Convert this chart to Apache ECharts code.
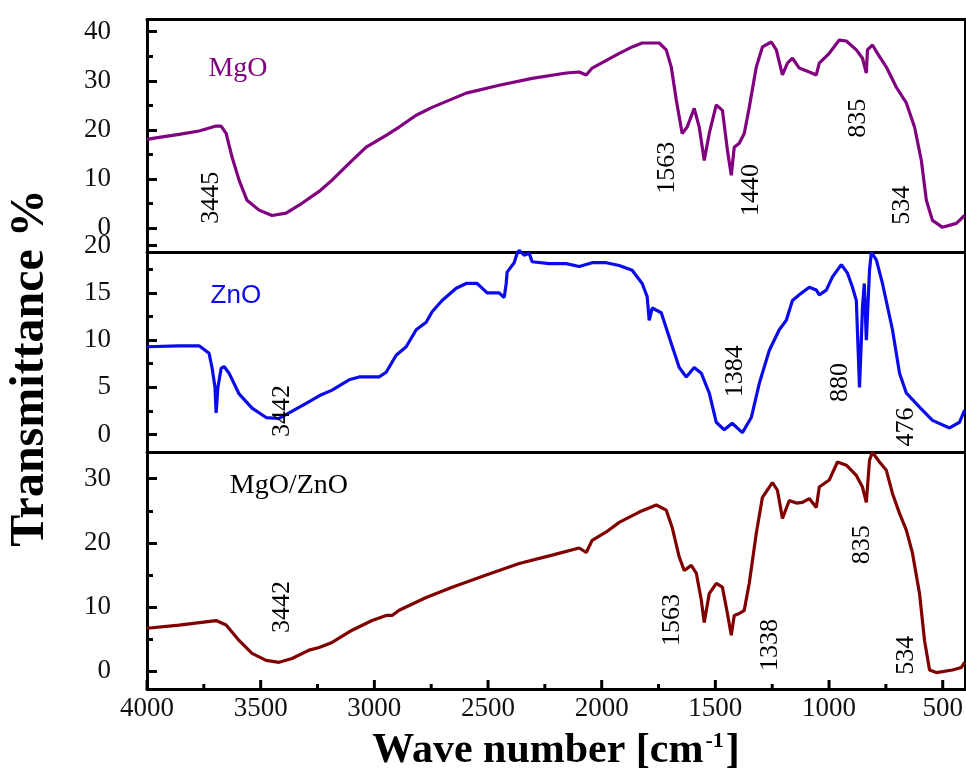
<!DOCTYPE html>
<html>
<head>
<meta charset="utf-8">
<script src="https://cdn.jsdelivr.net/npm/echarts@6/dist/echarts.min.js"></script>
<style>html,body{margin:0;padding:0;background:#fff;}#c{width:966px;height:768px;}</style>
</head>
<body>
<div id="c"></div>
<script>
// ---- data ----
const mgoWave = [4000,3947,3859,3771,3696,3674,3652,3626,3595,3560,3507,3450,3388,3331,3243,3186,3111,3036,2948,2891,2816,2746,2596,2451,2306,2156,2099,2068,2042,1923,1866,1822,1747,1716,1694,1672,1646,1624,1593,1571,1549,1527,1496,1469,1447,1430,1417,1395,1373,1351,1320,1293,1254,1232,1205,1183,1161,1131,1087,1056,1043,999,955,924,880,853,836,831,809,787,748,704,660,624,594,572,545,501,440,404];
const mgoT = [18.1,18.5,19.1,19.8,20.8,20.8,19.3,14.5,9.8,5.7,3.7,2.6,3.1,4.7,7.5,9.8,13.2,16.5,18.9,20.6,23.0,24.6,27.5,29.1,30.5,31.6,31.8,31.2,32.6,35.6,36.9,37.7,37.7,36.3,32.8,26.1,19.3,20.6,24.4,20.6,13.8,19.3,25.1,24.0,15.9,10.8,16.5,17.3,19.3,24.6,32.8,36.9,37.9,36.3,31.2,33.6,34.6,32.6,31.8,31.2,33.6,35.6,38.3,38.1,36.3,34.6,31.6,36.3,37.3,35.6,32.8,28.7,25.5,20.6,13.8,5.7,1.6,0.2,1.0,2.6];

const znoWave = [4000,3859,3771,3727,3714,3701,3696,3688,3674,3661,3639,3595,3538,3476,3419,3375,3300,3243,3186,3111,3067,2979,2948,2904,2860,2816,2772,2746,2702,2640,2596,2548,2526,2504,2451,2429,2420,2416,2385,2372,2363,2341,2319,2306,2231,2156,2099,2042,1980,1923,1866,1822,1800,1791,1778,1738,1703,1659,1628,1593,1562,1527,1496,1461,1426,1381,1342,1307,1263,1219,1188,1161,1131,1087,1056,1043,1012,985,946,919,897,880,866,858,853,845,836,822,814,792,765,721,690,660,602,545,470,426,404];
const znoT = [9.3,9.4,9.4,8.6,7.1,5.0,2.3,5.0,7.0,7.2,6.5,4.3,2.8,1.8,1.7,2.3,3.3,4.1,4.7,5.8,6.1,6.1,6.6,8.4,9.3,11.1,11.9,13.0,14.2,15.5,16.0,16.0,15.5,15.0,15.0,14.5,16.0,17.2,18.2,19.2,19.5,19.0,19.2,18.3,18.1,18.1,17.8,18.2,18.2,17.9,17.4,16.0,14.6,12.1,13.4,12.9,10.3,7.1,6.1,7.1,6.5,4.4,1.3,0.5,1.2,0.2,1.8,5.4,8.9,11.1,12.1,14.2,14.8,15.6,15.3,14.8,15.3,16.7,18.0,17.1,15.6,14.2,5.0,10.0,13.5,16.0,10.0,17.4,19.3,18.5,16.0,11.1,6.5,4.4,2.9,1.5,0.7,1.3,2.6];

const mzWave = [4000,3859,3696,3652,3595,3538,3476,3419,3362,3287,3243,3186,3098,3010,2948,2922,2891,2772,2658,2508,2363,2218,2099,2068,2042,1980,1923,1835,1760,1716,1690,1659,1637,1606,1584,1562,1549,1527,1496,1469,1447,1430,1417,1395,1373,1351,1320,1293,1249,1227,1205,1175,1144,1117,1087,1056,1043,999,963,924,880,853,836,822,809,778,748,721,690,660,633,602,580,558,528,457,418,404];
const mzT = [6.7,7.2,7.9,7.2,4.8,2.8,1.7,1.4,2.0,3.3,3.7,4.5,6.4,7.9,8.7,8.7,9.5,11.5,13.1,15.0,16.8,18.1,19.2,18.5,20.4,21.7,23.2,24.8,25.9,25.1,22.4,17.8,15.7,16.5,15.3,11.1,7.6,12.1,13.7,13.1,9.0,5.6,8.7,9.0,9.5,13.7,21.5,27.1,29.4,28.2,23.8,26.6,26.2,26.3,26.9,25.5,28.7,29.8,32.6,32.1,30.5,28.7,26.3,32.9,34.1,32.6,31.3,27.7,24.6,22.0,18.4,12.1,4.8,0.2,-0.2,0.2,0.6,1.4];

// peak annotations (text, wave number, transmittance where the text sits)
const mgoPeakText = ['3445','1563','1440','835','534'];
const mgoPeakWave = [3719,1710,1341,870,677];
const mgoPeakT = [6.2,12.3,7.8,22.4,4.7];
const znoPeakText = ['3442','1384','880','476'];
const znoPeakWave = [3407,1415,949,659];
const znoPeakT = [2.5,6.7,5.5,0.8];
const mzPeakText = ['3442','1563','1338','835','534'];
const mzPeakWave = [3407,1688,1257,853,659];
const mzPeakT = [10.0,8.0,4.1,19.7,2.5];

// sample names
const sampleNames = ['MgO','ZnO','MgO/ZnO'];
const sampleWave = [3600,3609,3376];
const sampleT = [32.4,14.7,28.9];

// axis ticks
const xTickMin = 500, xTickMax = 4000, xTickStep = 500;
const xMajor = [500,1000,1500,2000,2500,3000,3500,4000];
const xMinor = [750,1250,1750,2250,2750,3250,3750];
const yTopMajor = [0,10,20,30,40], yTopMinor = [5,15,25,35];
const yMidMajor = [0,5,10,15,20], yMidMinor = [2.5,7.5,12.5,17.5];
const yBotMajor = [0,10,20,30], yBotMinor = [5,15,25];

// ---- chart ----
const serif = '"Liberation Serif", "Times New Roman", serif';
const black = '#000';
const X_MIN = 402, X_MAX = 4000;
const PX_PER_UNIT = 818 / (X_MAX - X_MIN);
const TICK_RIGHT = 1 + (xTickMin - X_MIN) * PX_PER_UNIT;
const zip = (a, b) => a.map((v, i) => [v, b[i]]);

const gridBase = {containLabel: false, outerBoundsMode: 'none'};
const grids = [
  {left: 147, right: 1, top: 19.5, height: 232.5},
  {left: 147, right: 1, top: 245.7, height: 206.3},
  {left: 147, right: 1, top: 452.5, height: 236.5},
  // label grid whose x range starts at a multiple of the tick step
  {left: 147, right: TICK_RIGHT, top: 452.5, height: 236.5}
].map(g => Object.assign({}, gridBase, g));

function xAx(grid, pos, opts) {
  return Object.assign({
    type: 'value', gridIndex: grid, position: pos, inverse: true, min: X_MIN, max: X_MAX,
    axisLine: {show: true, onZero: false, lineStyle: {color: black, width: 3}},
    axisTick: {show: false}, axisLabel: {show: false}, splitLine: {show: false}
  }, opts || {});
}
function yAx(grid, pos, min, max, opts) {
  return Object.assign({
    type: 'value', gridIndex: grid, position: pos, min: min, max: max,
    axisLine: {show: true, onZero: false, lineStyle: {color: black, width: 3}},
    axisTick: {show: false}, axisLabel: {show: false}, splitLine: {show: false}
  }, opts || {});
}
const labelStyle = {show: true, color: '#111', fontFamily: serif, fontSize: 27, formatter: v => String(v)};

const yRanges = [[-4.82, 42.48], [-1.85, 20], [-2.76, 34.08]];
const majors = [yTopMajor, yMidMajor, yBotMajor];
const minors = [yTopMinor, yMidMinor, yBotMinor];

const xAxes = [
  xAx(0, 'bottom'),
  xAx(0, 'top'),
  xAx(1, 'bottom'),
  xAx(2, 'bottom', {
    name: '{t|Wave number [cm}{s|-1}{t|]}',
    nameLocation: 'middle', nameGap: 41,
    nameTextStyle: {
      rich: {
        t: {fontFamily: serif, fontWeight: 'bold', fontSize: 42, color: black},
        s: {fontFamily: serif, fontWeight: 'bold', fontSize: 22, color: black, verticalAlign: 'top', padding: [0, 2, 8, 2]}
      }
    }
  }),
  xAx(3, 'bottom', {
    min: xTickMin, max: xTickMax, interval: xTickStep,
    axisLine: {show: false, onZero: false},
    axisLabel: Object.assign({}, labelStyle, {margin: 6, showMinLabel: true, showMaxLabel: true})
  })
];

const yAxes = [];
for (let g = 0; g < 3; g++) {
  const [mn, mx] = yRanges[g];
  yAxes.push(yAx(g, 'left', mn, mx, {
    axisTick: {show: true, inside: true, length: 10, customValues: majors[g], lineStyle: {color: black, width: 3}},
    axisLabel: Object.assign({}, labelStyle, {margin: 36, customValues: majors[g]})
  }));
  yAxes.push(yAx(g, 'left', mn, mx, {
    axisLine: {show: false, onZero: false},
    axisTick: {show: true, inside: true, length: 6, customValues: minors[g], lineStyle: {color: black, width: 3}}
  }));
  yAxes.push(yAx(g, 'right', mn, mx));
}
yAxes.push(yAx(3, 'left', 0, 1, {show: false}));

function spectrum(wave, t, color, g) {
  return {
    type: 'line', xAxisIndex: g === 0 ? 0 : (g === 1 ? 2 : 3), yAxisIndex: g * 3,
    data: zip(wave, t), showSymbol: false, symbol: 'none', silent: true,
    lineStyle: {color: color, width: 3.2}, z: 3
  };
}
function notes(texts, wave, t, g, rotate, font) {
  return {
    type: 'scatter', xAxisIndex: g === 0 ? 0 : (g === 1 ? 2 : 3), yAxisIndex: g * 3,
    symbolSize: 1, itemStyle: {color: 'rgba(255,255,255,0)'}, silent: true, z: 5,
    data: texts.map((s, i) => ({name: s, value: [wave[i], t[i]]})),
    label: Object.assign({
      show: true, position: 'inside', rotate: rotate, formatter: p => p.name,
      align: 'center', verticalAlign: 'middle', textBorderWidth: 0, opacity: 1
    }, font)
  };
}
// inward x-axis ticks on the bottom frame line, placed through the axis scale
function xTicks(values, len) {
  const bottom = yRanges[2][0];
  return {
    type: 'custom', xAxisIndex: 3, yAxisIndex: 6, silent: true, z: 4, clip: false,
    data: values.map(v => [v, bottom]),
    renderItem: (params, api) => {
      const p = api.coord([api.value(0), api.value(1)]);
      return {type: 'line', shape: {x1: p[0], y1: p[1], x2: p[0], y2: p[1] - len},
              style: {stroke: black, lineWidth: 3}};
    }
  };
}

const option = {
  animation: false,
  backgroundColor: '#fff',
  grid: grids,
  xAxis: xAxes,
  yAxis: yAxes,
  graphic: [{
    type: 'text', x: 31, y: 368, rotation: Math.PI / 2,
    style: {text: 'Transmittance %', fontFamily: serif, fontWeight: 'bold', fontSize: 48,
            fill: black, align: 'center', verticalAlign: 'middle'}
  }],
  series: [
    spectrum(mgoWave, mgoT, '#800080', 0),
    spectrum(znoWave, znoT, '#0a0aeb', 1),
    spectrum(mzWave, mzT, '#800000', 2),
    xTicks(xMajor, 9),
    xTicks(xMinor, 5),
    notes(mgoPeakText, mgoPeakWave, mgoPeakT, 0, 90, {fontFamily: serif, fontSize: 26, color: '#000'}),
    notes(znoPeakText, znoPeakWave, znoPeakT, 1, 90, {fontFamily: serif, fontSize: 26, color: '#000'}),
    notes(mzPeakText, mzPeakWave, mzPeakT, 2, 90, {fontFamily: serif, fontSize: 26, color: '#000'}),
    notes([sampleNames[0]], [sampleWave[0]], [sampleT[0]], 0, 0, {fontFamily: serif, fontSize: 28, color: '#800080'}),
    notes([sampleNames[1]], [sampleWave[1]], [sampleT[1]], 1, 0, {fontFamily: '"Liberation Sans", Arial, sans-serif', fontSize: 26, color: '#0a0aeb'}),
    notes([sampleNames[2]], [sampleWave[2]], [sampleT[2]], 2, 0, {fontFamily: serif, fontSize: 28, color: '#000'})
  ]
};

const chart = echarts.init(document.getElementById('c'), null, {renderer: 'canvas'});
chart.setOption(option);
</script>
</body>
</html>
